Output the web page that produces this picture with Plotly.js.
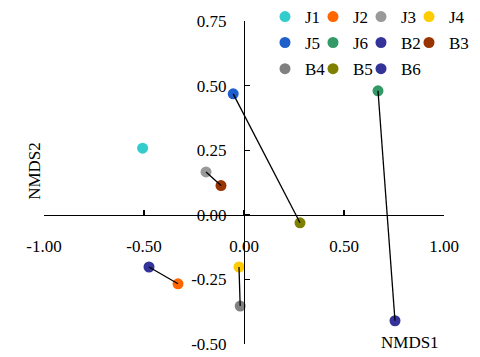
<!DOCTYPE html>
<html>
<head>
<meta charset="utf-8">
<script src="https://cdn.plot.ly/plotly-3.0.1.min.js"></script>
<style>html,body{margin:0;padding:0;background:#fff;}#chart{width:480px;height:357px;}</style>
</head>
<body>
<div id="chart"></div>
<script>
// Data
const samples = ['J1','J2','J3','J4','J5','J6','B2','B3','B4','B5','B6'];
const nmds1 = [-0.507, -0.33, -0.19, -0.025, -0.054, 0.67, -0.475, -0.115, -0.019, 0.28, 0.755];
const nmds2 = [0.258, -0.267, 0.166, -0.202, 0.468, 0.48, -0.202, 0.113, -0.353, -0.031, -0.41];
const colors = ['#33CCCC','#FF6600','#999999','#FFCC00','#1F5FCC','#339966','#333399','#993300','#808080','#808000','#333399'];
const legendRows = ['legend','legend','legend','legend','legend2','legend2','legend2','legend2','legend3','legend3','legend3'];
const links = [['J5','B5'],['J3','B3'],['J6','B6'],['B2','J2'],['J4','B4']];
const xTickVals = [-1, -0.5, 0, 0.5, 1];
const xTickText = ['-1.00','-0.50','0.00','0.50','1.00'];
const yTickVals = [-0.5, -0.25, 0, 0.25, 0.5, 0.75];
const yTickText = ['-0.50','-0.25','0.00','0.25','0.50','0.75'];

const FONT = 'Liberation Serif';
const FS = 17;

const traces = samples.map((s, i) => {
  const rowLast = (i === samples.length - 1) || legendRows[i + 1] !== legendRows[i];
  return {
    type: 'scatter', mode: 'markers', name: s,
    x: [nmds1[i]], y: [nmds2[i]],
    marker: {color: colors[i], size: 11},
    legend: legendRows[i], legendwidth: rowLast ? 40 : 3,
    showlegend: true, hoverinfo: 'name'
  };
});

const lx = [], ly = [];
links.forEach(([a, b]) => {
  const ia = samples.indexOf(a), ib = samples.indexOf(b);
  lx.push(nmds1[ia], nmds1[ib], null);
  ly.push(nmds2[ia], nmds2[ib], null);
});
traces.push({type: 'scatter', mode: 'lines', x: lx, y: ly, line: {color: '#000', width: 1.3}, showlegend: false, hoverinfo: 'skip'});

const legendBase = {orientation: 'h', xanchor: 'left', yanchor: 'middle', x: 0.5525,
  bgcolor: 'rgba(0,0,0,0)', font: {family: FONT, size: FS, color: '#000'},
  entrywidthmode: 'pixels', itemclick: false};

const layout = {
  width: 480, height: 357,
  margin: {l: 44, r: 36, t: 21, b: 13, autoexpand: false},
  paper_bgcolor: '#fff', plot_bgcolor: '#fff',
  font: {family: FONT, size: FS, color: '#000'},
  xaxis: {range: [-1, 1], anchor: 'free', position: 0.4, showline: true, linecolor: '#000', linewidth: 1.3,
    ticks: 'inside', ticklen: 5, tickwidth: 1.3, tickcolor: '#000', tickvals: xTickVals, ticktext: xTickText,
    showgrid: false, zeroline: false, ticklabelstandoff: 15, tickfont: {family: FONT, size: FS, color: '#000'}},
  yaxis: {range: [-0.5, 0.75], anchor: 'free', position: 0.5, showline: true, linecolor: '#000', linewidth: 1.3,
    ticks: 'inside', ticklen: 5, tickwidth: 1.3, tickcolor: '#000', tickvals: yTickVals, ticktext: yTickText,
    showgrid: false, zeroline: false, ticklabelstandoff: 14, tickfont: {family: FONT, size: FS, color: '#000'}},
  legend: Object.assign({}, legendBase, {y: 1.0124}),
  legend2: Object.assign({}, legendBase, {y: 0.932}),
  legend3: Object.assign({}, legendBase, {y: 0.851}),
  annotations: [
    {text: 'NMDS1', xref: 'paper', yref: 'paper', x: 0.915, y: 0.006, xanchor: 'center', yanchor: 'middle', showarrow: false, font: {family: FONT, size: FS, color: '#000'}},
    {text: 'NMDS2', xref: 'paper', yref: 'paper', x: -0.0225, y: 0.536, xanchor: 'center', yanchor: 'middle', textangle: -90, showarrow: false, font: {family: FONT, size: FS, color: '#000'}}
  ],
  showlegend: true
};

Plotly.newPlot('chart', traces, layout, {displayModeBar: false, staticPlot: true});
</script>
</body>
</html>
